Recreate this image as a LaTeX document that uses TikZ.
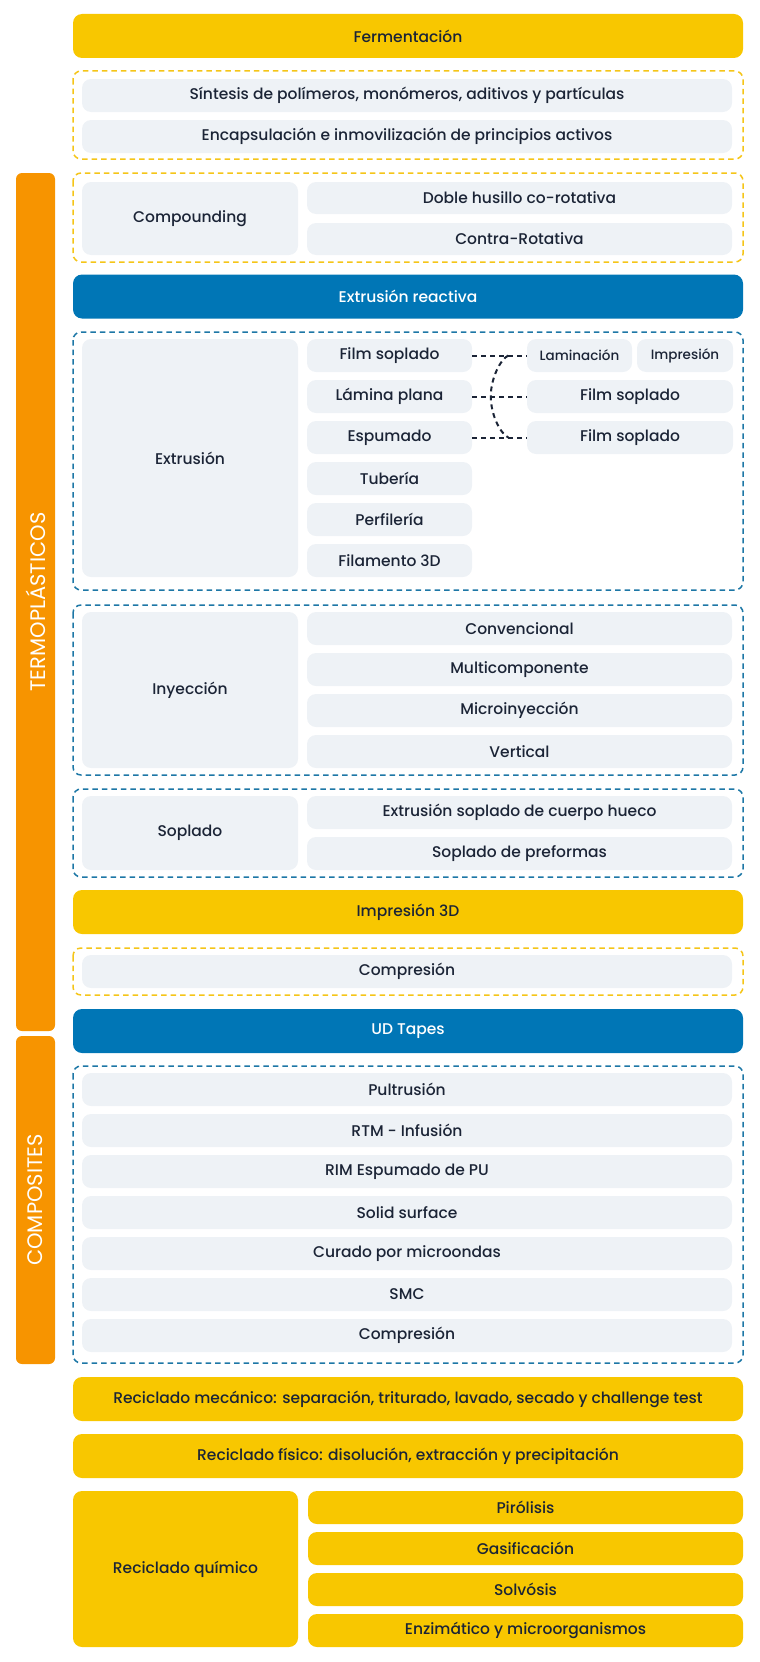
\documentclass[tikz,border=0pt]{standalone}
\usepackage{fontspec}
\setmainfont{Poppins}[UprightFont={* Medium}]
\newfontfamily\sidefont{Poppins}
\usetikzlibrary{positioning}
\definecolor{ink}{HTML}{1B2436}
\definecolor{cellgray}{HTML}{EEF2F6}
\definecolor{amarillo}{HTML}{F8C700}
\definecolor{azul}{HTML}{0076B6}
\definecolor{naranja}{HTML}{F79400}
\definecolor{dashyellow}{HTML}{F5C518}
\definecolor{dashblue}{HTML}{1D77A6}

\begin{document}
\begin{tikzpicture}[
    x = 1pt, y = -1pt,
    font = \fontsize{15.5}{18}\selectfont,
    bar/.style = {fill=#1, rounded corners=9pt, minimum width=670pt,
        minimum height=44pt, inner sep=0pt, text=ink},
    cell/.style = {fill=cellgray, rounded corners=9pt, inner sep=0pt,
        text=ink, minimum height=33pt},
    dashbox/.style = {draw=#1, line width=1.5pt,
        dash pattern=on 5.5pt off 4pt, rounded corners=8pt},
    sidebar/.style = {fill=naranja, rounded corners=6pt, minimum height=39pt,
        inner sep=0pt, text=white, rotate=90,
        font=\sidefont\fontsize{21}{24}\selectfont},
    joint/.style = {draw=ink, line width=2pt, dash pattern=on 5pt off 4pt}
  ]
  \useasboundingbox (0,0) rectangle (760,1662);

  % side bars
  \node[sidebar, minimum width=858pt] (termo) at (35.5,602) {TERMOPLÁSTICOS};
  \node[sidebar, minimum width=328pt] (compo) at (35.5,1200) {COMPOSITES};

  % fermentacion y sintesis
  \node[bar=amarillo] (ferm) at (408,36) {Fermentación};
  \draw[dashbox=dashyellow] (73,71) rectangle (743,159);
  \node[cell, minimum width=650pt] (sint) at (407,95.5)
    {Síntesis de polímeros, monómeros, aditivos y partículas};
  \node[cell, minimum width=650pt] (encap) at (407,136.5)
    {Encapsulación e inmovilización de principios activos};

  % compounding
  \draw[dashbox=dashyellow] (73,173) rectangle (743,262);
  \node[cell, minimum width=216pt, minimum height=73pt] (comp) at (190,218.5) {Compounding};
  \node[cell, minimum width=425pt, minimum height=32pt] (dobl) at (519.5,198) {Doble husillo co-rotativa};
  \node[cell, minimum width=425pt, minimum height=32pt] (contra) at (519.5,239) {Contra-Rotativa};

  \node[bar=azul, text=white] (reac) at (408,296.5) {Extrusión reactiva};

  % extrusion
  \draw[dashbox=dashblue] (73,332) rectangle (743,590);
  \node[cell, minimum width=216pt, minimum height=238pt] (extr) at (190,458) {Extrusión};
  \foreach \t [count=\j from 0] in {Film soplado, Lámina plana, Espumado, Tubería, Perfilería, Filamento 3D}
  \node[cell, minimum width=165pt] (ext-\j) at (389.5,355.5+41*\j) {\t};

  \node[cell, minimum width=105pt, font=\fontsize{13.5}{16}\selectfont] (lamin) at (579.5,355.5) {Laminación};
  \node[cell, minimum width=96pt, font=\fontsize{13.5}{16}\selectfont] (impr) at (685,355.5) {Impresión};
  \node[cell, minimum width=206pt] (film-a) at (630,396.5) {Film soplado};
  \node[cell, minimum width=206pt] (film-b) at (630,437.5) {Film soplado};

  \draw[joint] (ext-0) -- (lamin);
  \draw[joint] (ext-1) -- (film-a);
  \draw[joint] (ext-2) -- (film-b);
  \path (ext-0.east) -- (lamin.west) coordinate[pos=0.66] (jtop);
  \path (ext-1.east) -- (film-a.west) coordinate[pos=0.34] (jmid);
  \path (ext-2.east) -- (film-b.west) coordinate[pos=0.66] (jbot);
  \draw[joint] (jtop) .. controls +(-8,4) and +(0,-18) .. (jmid)
    .. controls +(0,18) and +(-8,-4) .. (jbot);

  % inyeccion
  \draw[dashbox=dashblue] (73,605) rectangle (743,775);
  \node[cell, minimum width=216pt, minimum height=156pt] (iny) at (190,690) {Inyección};
  \foreach \t [count=\j from 0] in {Convencional, Multicomponente, Microinyección, Vertical}
  \node[cell, minimum width=425pt] (iny-\j) at (519.5,628.5+41*\j) {\t};

  % soplado
  \draw[dashbox=dashblue] (73,789) rectangle (743,877);
  \node[cell, minimum width=216pt, minimum height=74pt] (sopl) at (190,833) {Soplado};
  \foreach \t [count=\j from 0] in {Extrusión soplado de cuerpo hueco, Soplado de preformas}
  \node[cell, minimum width=425pt] (sopl-\j) at (519.5,812.5+41*\j) {\t};

  \node[bar=amarillo] (imp3d) at (408,912) {Impresión 3D};
  \draw[dashbox=dashyellow] (73,948) rectangle (743,995);
  \node[cell, minimum width=650pt] (compr) at (407,971.5) {Compresión};

  % composites
  \node[bar=azul, text=white] (udt) at (408,1031) {UD Tapes};
  \draw[dashbox=dashblue] (73,1066) rectangle (743,1363);
  \foreach \t [count=\j from 0] in {Pultrusión, RTM - Infusión, RIM Espumado de PU, Solid surface, Curado por microondas, SMC, Compresión}
  \node[cell, minimum width=650pt] (cmp-\j) at (407,1089.5+41*\j) {\t};

  % reciclado
  \node[bar=amarillo] (recmec) at (408,1399)
    {Reciclado mecánico: separación, triturado, lavado, secado y challenge test};
  \node[bar=amarillo] (recfis) at (408,1456)
    {Reciclado físico: disolución, extracción y precipitación};
  \node[bar=amarillo, minimum width=225pt, minimum height=156pt] (recqui) at (185.5,1569) {Reciclado químico};
  \foreach \t [count=\j from 0] in {Pirólisis, Gasificación, Solvósis, Enzimático y microorganismos}
  \node[bar=amarillo, minimum width=435pt, minimum height=33pt] (qui-\j) at (525.5,1507.5+41*\j) {\t};
\end{tikzpicture}
\end{document}
